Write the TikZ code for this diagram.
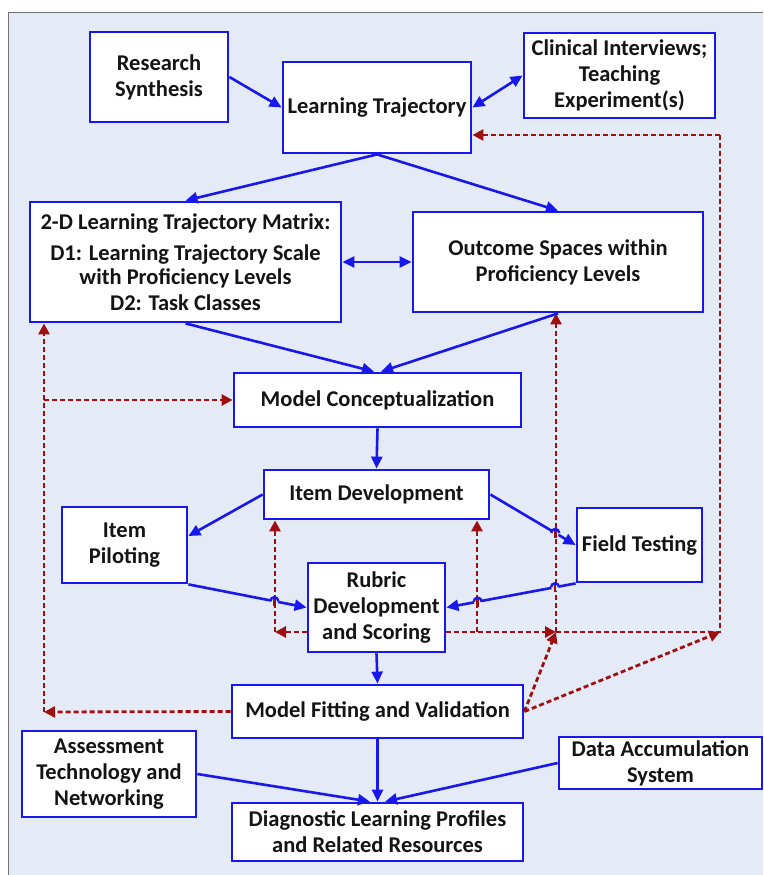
\documentclass[tikz,border=0pt]{standalone}
\usepackage{fontspec}
\setmainfont{Carlito}
\usepackage{tikz}
\usetikzlibrary{arrows.meta}
\usetikzlibrary{calc}
\definecolor{boxblue}{RGB}{24,24,236}
\definecolor{linkred}{RGB}{158,16,16}
\definecolor{paneblue}{RGB}{228,234,246}
\definecolor{framegray}{RGB}{112,112,112}
\tikzset{
  stage/.style={draw=boxblue, line width=2.8pt, fill=white, align=center, inner sep=0pt,
    text=black!92, font=\bfseries\fontsize{22.5}{26}\selectfont},
  link/.style={draw=boxblue, line width=2.6pt, -{Triangle[length=12pt,width=11pt]}},
  dlink/.style={link, {Triangle[length=12pt,width=11pt]}-{Triangle[length=12pt,width=11pt]}},
  fback/.style={draw=linkred, line width=2.8pt, dash pattern=on 5pt off 3pt, -{Triangle[length=11pt,width=11pt]}},
}
% little bump where a flow line jumps over a feedback line
\newcommand{\hopover}[1]{%
  \fill[paneblue] (#1) circle (4pt);
  \draw[linkred, line width=2.8pt] ($(#1)+(0,-5)$) -- ($(#1)+(0,5)$);
  \draw[boxblue, line width=2.4pt] ($(#1)+(-4,0)$) arc[start angle=180, end angle=0, radius=4pt];
}

\begin{document}
\begin{tikzpicture}[x=1pt, y=-1pt]
    \useasboundingbox (0,0) rectangle (763,875);
    \fill[paneblue] (8,13) rectangle (763,875);
    \draw[framegray, line width=1pt] (8,875) -- (8,13) -- (763,13);

    \node[stage, minimum width=138pt, minimum height=90pt] at (159,77) (RS) {Research\\Synthesis};
    \node[stage, minimum width=188pt, minimum height=91pt] at (377,107.5) (LT) {Learning Trajectory};
    \node[stage, minimum width=191pt, minimum height=85pt] at (619.5,75.5) (CI) {Clinical Interviews;\\Teaching\\Experiment(s)};
    \node[stage, minimum width=311pt, minimum height=120pt] at (185.5,262) (MX)
        {2-D Learning Trajectory Matrix:\\[5pt] D1: Learning Trajectory Scale\\[-2pt] with Proficiency Levels\\ D2: Task Classes};
    \node[stage, minimum width=290pt, minimum height=100pt] at (558,262) (OS) {Outcome Spaces within\\Proficiency Levels};
    \node[stage, minimum width=287pt, minimum height=54pt] at (377.5,400) (MC) {Model Conceptualization};
    \node[stage, minimum width=225pt, minimum height=49pt] at (376.5,494.5) (ID) {Item Development};
    \node[stage, minimum width=125pt, minimum height=76pt] at (124.5,545) (IP) {Item\\Piloting};
    \node[stage, minimum width=125pt, minimum height=74pt] at (639.5,545) (FT) {Field Testing};
    \node[stage, minimum width=137pt, minimum height=89pt] at (376.5,607.5) (RD) {Rubric\\Development\\and Scoring};
    \node[stage, minimum width=291pt, minimum height=53pt] at (377.5,711.5) (MF) {Model Fitting and Validation};
    \node[stage, minimum width=174pt, minimum height=86pt] at (109,774) (AT) {Assessment\\Technology and\\Networking};
    \node[stage, minimum width=203pt, minimum height=52pt] at (660.5,763) (DA) {Data Accumulation\\System};
    \node[stage, minimum width=291pt, minimum height=58pt] at (377.5,832) (DL) {Diagnostic Learning Profiles\\and Related Resources};

    % feedback loops
    \coordinate (LL) at (44,712);
    \coordinate (LM) at (44,400);
    \coordinate (RA) at (275,632);
    \coordinate (RB) at (477,632);
    \coordinate (RC) at (556,632);
    \coordinate (RR) at (720,632);
    \coordinate (RT) at (720,135);

    \draw[fback] (MF.west) -- (LL);
    \draw[fback] (LL) -- (LL |- MX.south);
    \draw[fback] (LM) -- (LM -| MC.west);
    \draw[fback] (RA -| RD.west) -- (RA);
    \draw[fback] (RA) -- (RA |- ID.south);
    \draw[fback] (RB) -- (RB |- ID.south);
    \draw[fback] (RC -| RD.east) -- (RC);
    \draw[fback, -] (RC) -- (RR) -- (RT);
    \draw[fback] (RT) -- (RT -| LT.east);
    \draw[fback] (RC) -- (RC |- OS.south);
    \draw[fback] (MF.east) -- (RC);
    \draw[fback] (MF.east) -- (RR);

    % main flow
    \draw (RS.east) edge[link] (LT.west);
    \draw (LT.east) edge[dlink] (CI.west);
    \draw (LT.south) edge[link] (MX.north);
    \draw (LT.south) edge[link] (OS.north);
    \draw (MX.east) edge[dlink] (OS.west);
    \draw (MX.south) edge[link] (MC.97);
    \draw (OS.south) edge[link] (MC.83);
    \draw (MC.south) edge[link] (ID.north);
    \draw (ID.west) edge[link] (IP.8);
    \draw (ID.east) edge[link] (FT.west);
    \draw (IP.south east) edge[link] (RD.west);
    \draw (FT.south west) edge[link] (RD.east);
    \draw (RD.south) edge[link] (MF.north);
    \draw (MF.south) edge[link] (DL.north);
    \draw (AT.east) edge[link] (DL.104);
    \draw (DA.west) edge[link] (DL.76);

    \hopover{$(IP.south east)!0.727!(RD.west)$}
    \hopover{$(FT.south west)!0.159!(RD.east)$}
    \hopover{$(FT.south west)!0.758!(RD.east)$}
    \hopover{$(ID.east)!0.761!(FT.west)$}
\end{tikzpicture}
\end{document}
